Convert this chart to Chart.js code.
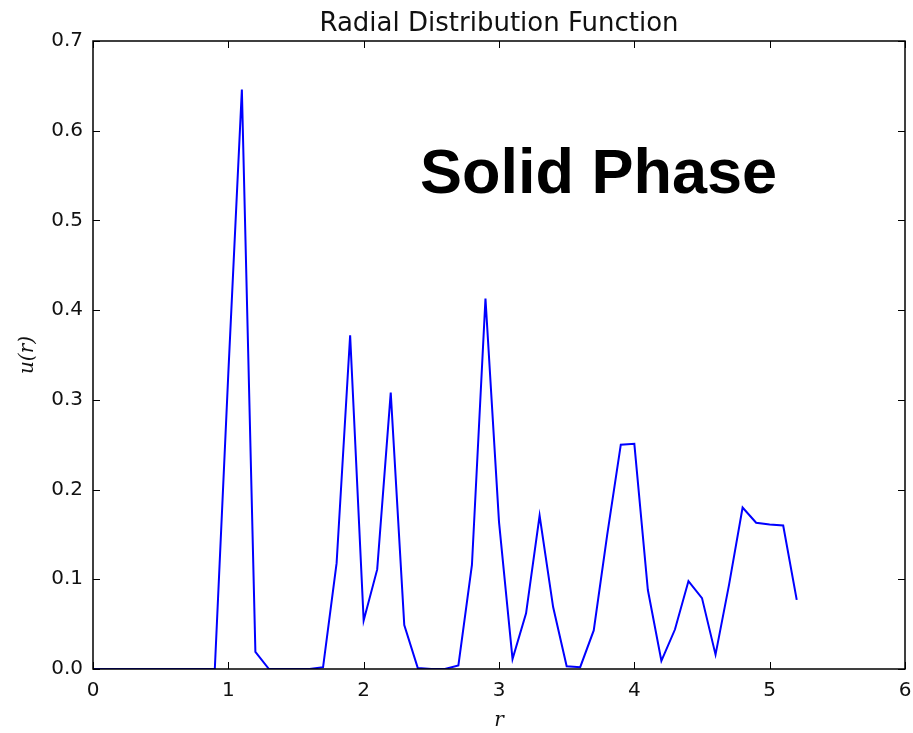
<!DOCTYPE html>
<html>
<head>
<meta charset="utf-8">
<title>Radial Distribution Function</title>
<script src="https://cdn.jsdelivr.net/npm/chart.js@4.4.1/dist/chart.umd.min.js"></script>
<style>
    html, body { margin: 0; padding: 0; background: #fff; }
    #wrap { width: 913px; height: 733px; }
</style>
</head>
<body>
<div id="wrap"><canvas id="rdfChart" width="913" height="733"></canvas></div>
<script>
// r values (x) and u(r) values (y)
const rValues = [0.0, 0.1, 0.2, 0.3, 0.4, 0.5, 0.6, 0.7, 0.8, 0.9,
                 1.0, 1.1, 1.2, 1.3, 1.4, 1.5, 1.6, 1.7, 1.8, 1.9,
                 2.0, 2.1, 2.2, 2.3, 2.4, 2.5, 2.6, 2.7, 2.8, 2.9,
                 3.0, 3.1, 3.2, 3.3, 3.4, 3.5, 3.6, 3.7, 3.8, 3.9,
                 4.0, 4.1, 4.2, 4.3, 4.4, 4.5, 4.6, 4.7, 4.8, 4.9,
                 5.0, 5.1, 5.2];
const uValues = [0, 0, 0, 0, 0, 0, 0, 0, 0, 0,
                 0.33, 0.646, 0.019, 0, 0, 0, 0, 0.002, 0.118, 0.372,
                 0.054, 0.111, 0.308, 0.049, 0.001, 0, 0, 0.004, 0.116, 0.413,
                 0.164, 0.011, 0.062, 0.171, 0.069, 0.003, 0.002, 0.043, 0.15, 0.25,
                 0.251, 0.088, 0.009, 0.044, 0.098, 0.079, 0.016, 0.094, 0.18, 0.163,
                 0.161, 0.16, 0.077];
const xTicks = [0, 1, 2, 3, 4, 5, 6];
const yTicks = [0.0, 0.1, 0.2, 0.3, 0.4, 0.5, 0.6, 0.7];

const chartTitle = 'Radial Distribution Function';
const overlayText = 'Solid Phase';
const xLabel = 'r';
const yLabel = 'u(r)';

const tickFont = { family: 'DejaVu Sans', size: 20 };

// box around the plot and matplotlib-style ticks pointing inward, plus the texts
const framePlugin = {
    id: 'frame',
    afterDraw(chart) {
        const c = chart.ctx;
        const a = chart.chartArea;
        const xs = chart.scales.x;
        const ys = chart.scales.y;
        const len = 7;

        c.save();
        c.strokeStyle = '#000';
        c.lineWidth = 1;
        c.beginPath();
        xTicks.forEach(v => {
            const px = Math.round(xs.getPixelForValue(v)) + 0.5;
            c.moveTo(px, a.bottom); c.lineTo(px, a.bottom - len);
            c.moveTo(px, a.top); c.lineTo(px, a.top + len);
        });
        yTicks.forEach(v => {
            const py = Math.round(ys.getPixelForValue(v)) + 0.5;
            c.moveTo(a.left, py); c.lineTo(a.left + len, py);
            c.moveTo(a.right, py); c.lineTo(a.right - len, py);
        });
        c.stroke();

        c.lineWidth = 1.5;
        c.strokeRect(a.left, a.top, a.right - a.left, a.bottom - a.top);

        const midX = (a.left + a.right) / 2;
        c.fillStyle = '#111';
        c.font = '26px "DejaVu Sans"';
        c.textAlign = 'center';
        c.textBaseline = 'alphabetic';
        c.fillText(chartTitle, midX, 31);

        c.fillStyle = '#000';
        c.font = 'bold 63px "Liberation Sans", Arial, sans-serif';
        c.textAlign = 'left';
        c.fillText(overlayText, 420, 193);

        c.fillStyle = '#111';
        c.font = 'italic 20px "DejaVu Serif"';
        c.textAlign = 'center';
        c.textBaseline = 'middle';
        c.fillText(xLabel, midX, 721);

        c.translate(28, (a.top + a.bottom) / 2);
        c.rotate(-Math.PI / 2);
        c.fillText(yLabel, 0, 0);
        c.restore();
    }
};

const ctx = document.getElementById('rdfChart').getContext('2d');

const rdfChart = new Chart(ctx, {
    type: 'line',
    data: {
        datasets: [{
            label: 'u(r)',
            data: rValues.map((r, i) => ({ x: r, y: uValues[i] })),
            borderColor: '#0000ff',
            borderWidth: 2,
            pointRadius: 0,
            fill: false,
            tension: 0
        }]
    },
    options: {
        responsive: false,
        animation: false,
        layout: {
            padding: { top: 41, right: 8, left: 0, bottom: 0 }
        },
        plugins: {
            legend: { display: false },
            tooltip: { enabled: false },
            title: { display: false }
        },
        scales: {
            x: {
                type: 'linear',
                min: 0,
                max: 6,
                afterFit: scale => {
                    scale.height = 64;
                    scale.paddingLeft = 0;
                    scale.paddingRight = 0;
                },
                afterBuildTicks: scale => { scale.ticks = xTicks.map(v => ({ value: v })); },
                ticks: {
                    color: '#111',
                    font: tickFont,
                    padding: 10,
                    maxRotation: 0,
                    callback: v => String(v)
                },
                grid: { display: false, drawTicks: false },
                border: { display: false }
            },
            y: {
                min: 0,
                max: 0.7,
                afterFit: scale => {
                    scale.width = 93;
                    scale.paddingTop = 0;
                    scale.paddingBottom = 0;
                },
                afterBuildTicks: scale => { scale.ticks = yTicks.map(v => ({ value: v })); },
                ticks: {
                    color: '#111',
                    font: tickFont,
                    padding: 10,
                    callback: v => Number(v).toFixed(1)
                },
                grid: { display: false, drawTicks: false },
                border: { display: false }
            }
        }
    },
    plugins: [framePlugin]
});
</script>
</body>
</html>
